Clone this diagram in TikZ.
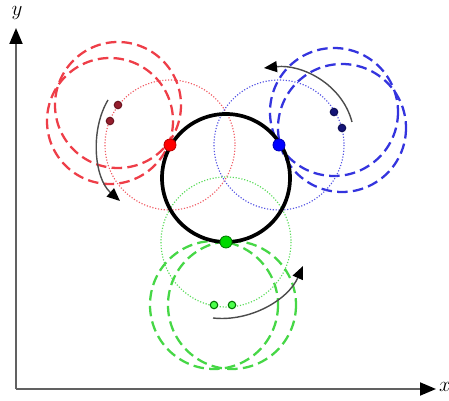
\documentclass[tikz,border=0pt]{standalone}
\usepackage{amsmath}
\usetikzlibrary{arrows.meta}
\definecolor{redring}{RGB}{238,62,72}
\definecolor{bluering}{RGB}{52,52,222}
\definecolor{greenring}{RGB}{70,215,70}
\definecolor{reddot}{RGB}{150,30,45}
\definecolor{bluedot}{RGB}{20,20,120}
\tikzset{
  axis/.style={-{Triangle[length=3.2mm,width=2.6mm,color=black]}, line width=1.1pt, draw=black!62},
  axlabel/.style={font=\large, inner sep=0pt},
  orbit/.style={line width=1.3pt, dash pattern=on 6pt off 3pt},
  trace/.style={line width=0.65pt, densely dotted},
  path/.style={line width=2.1pt, draw=black},
  bigdot/.style={circle, minimum size=0.24cm, inner sep=0pt, line width=0.5pt},
  smalldot/.style={circle, minimum size=0.15cm, inner sep=0pt, line width=0.6pt},
  turn/.style={-{Triangle[length=2.6mm,width=2.2mm,color=black]}, line width=0.8pt, draw=black!70}
}
\begin{document}
\begin{tikzpicture}[x=0.02cm, y=-0.02cm]
  \useasboundingbox (0,0) rectangle (449,401);

  % Axes.
  \coordinate (O) at (16,389);
  \coordinate (xend) at (436,389);
  \coordinate (yend) at (16,28);
  \draw[axis] (O) -- (xend);
  \draw[axis] (O) -- (yend);
  \node[axlabel] (xlab) at (445,387) {$x$};
  \node[axlabel] (ylab) at (17,13) {$y$};

  % Centres of the circles.
  \coordinate (C) at (226,178);
  \coordinate (Pr) at (170,145);
  \coordinate (Pb) at (279,145);
  \coordinate (Pg) at (226,242);
  \coordinate (r1) at (118,105);
  \coordinate (r2) at (110,121);
  \coordinate (b1) at (334,112);
  \coordinate (b2) at (342,128);
  \coordinate (g1) at (214,305);
  \coordinate (g2) at (232,305);

  % Dashed circles round the small dots.
  \draw[orbit, redring] (r1) circle[radius=63];
  \draw[orbit, redring] (r2) circle[radius=63];
  \draw[orbit, bluering] (b1) circle[radius=64];
  \draw[orbit, bluering] (b2) circle[radius=64];
  \draw[orbit, greenring] (g1) circle[radius=64];
  \draw[orbit, greenring] (g2) circle[radius=64];

  % Dotted circles round the contact points.
  \draw[trace, redring!85] (Pr) circle[radius=65];
  \draw[trace, bluering!85] (Pb) circle[radius=65];
  \draw[trace, greenring!90] (Pg) circle[radius=65];

  % Middle circle.
  \draw[path] (C) circle[radius=64];

  % Dots.
  \node[bigdot, draw=red!75!black, fill=red] (dr) at (Pr) {};
  \node[bigdot, draw=blue!75!black, fill=blue] (db) at (Pb) {};
  \node[bigdot, draw=green!50!black, fill=green!85!black] (dg) at (Pg) {};
  \node[smalldot, draw=reddot!70!black, fill=reddot] (sr1) at (r1) {};
  \node[smalldot, draw=reddot!70!black, fill=reddot] (sr2) at (r2) {};
  \node[smalldot, draw=bluedot!70!black, fill=bluedot] (sb1) at (b1) {};
  \node[smalldot, draw=bluedot!70!black, fill=bluedot] (sb2) at (b2) {};
  \node[smalldot, draw=green!45!black, fill=green!70] (sg1) at (g1) {};
  \node[smalldot, draw=green!45!black, fill=green!70] (sg2) at (g2) {};

  % Turning arrows.
  \coordinate (ra) at (108,100);
  \coordinate (rb) at (120,201);
  \coordinate (ba) at (352,122);
  \coordinate (bb) at (264,68);
  \coordinate (ga) at (213,318);
  \coordinate (gb) at (303,266);
  \draw[turn] (ra) .. controls (90,130) and (94,178) .. (rb);
  \draw[turn] (ba) .. controls (342,84) and (302,64) .. (bb);
  \draw[turn] (ga) .. controls (250,322) and (288,300) .. (gb);
\end{tikzpicture}
\end{document}
